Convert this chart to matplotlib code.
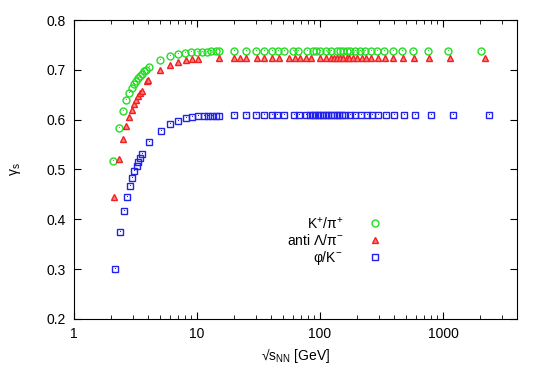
import matplotlib
matplotlib.use("Agg")
import matplotlib.pyplot as plt
from matplotlib.ticker import LogLocator, FixedLocator, NullFormatter

plt.rcParams['font.family'] = ['Liberation Sans', 'DejaVu Sans']
plt.rcParams['mathtext.default'] = 'regular'

# K+/pi+
x_k = [2.09, 2.31, 2.49, 2.66, 2.82, 2.94, 3.07, 3.19, 3.31, 3.44, 3.57, 3.71, 3.85, 4.05,
       5.0, 6.03, 6.96, 8.03, 8.94, 10, 11, 12, 13, 14.2, 15.1,
       20, 25, 30, 35, 40.5, 46, 50.7, 60.7, 66.6, 79, 88, 93, 100, 111, 123, 137, 145,
       155, 165, 175, 193, 211, 232, 260, 292, 333, 390, 464, 574, 759, 1097, 2026]
y_k = [0.518, 0.584, 0.617, 0.639, 0.653, 0.663, 0.671, 0.677, 0.683, 0.687, 0.692, 0.697, 0.700, 0.706,
       0.720, 0.727, 0.731, 0.733, 0.735, 0.736, 0.736, 0.736, 0.737, 0.737, 0.737] + [0.737] * 32

# anti Lambda/pi-
x_l = [2.13, 2.34, 2.50, 2.66, 2.82, 2.96, 3.09, 3.21, 3.34, 3.44, 3.57, 3.89, 4.02,
       5.0, 6.07, 7.01, 8.09, 9.04, 10.2, 15.1,
       20, 22.4, 25.2, 30.6, 35.3, 40.5, 46.2, 56, 63, 69, 76.5, 85, 101, 112, 123, 130,
       138, 145, 155, 165, 173, 187, 201, 218, 235, 258, 294, 338, 395, 470, 585, 774, 1146, 2208]
y_l = [0.445, 0.521, 0.561, 0.587, 0.605, 0.620, 0.631, 0.640, 0.647, 0.653, 0.658, 0.677, 0.679,
       0.700, 0.710, 0.715, 0.719, 0.721, 0.722, 0.724] + [0.724] * 34

# phi/K-
x_p = [2.15, 2.37, 2.55, 2.68, 2.84, 2.96, 3.09, 3.23, 3.34, 3.44, 3.57, 4.07,
       5.07, 6.07, 7.01, 8.09, 9.1, 10.1, 11.3, 12.2, 13.2, 14.3, 15.2,
       20, 25, 30, 35, 40.5, 45, 50.7, 61, 67.5, 76.5, 82.7, 87, 91.5, 96, 101, 106, 112,
       117, 123, 130, 137, 144, 151, 159, 175, 194, 216, 239, 265, 297, 342, 399, 478,
       595, 799, 1199, 2380]
y_p = [0.300, 0.375, 0.417, 0.445, 0.467, 0.483, 0.496, 0.507, 0.516, 0.524, 0.531, 0.555,
       0.578, 0.591, 0.598, 0.603, 0.605, 0.607, 0.608, 0.608, 0.608, 0.608, 0.608] + [0.609] * 37

fig = plt.figure(figsize=(5.45, 3.82), dpi=100)
ax = fig.add_axes([0.1358, 0.165, 0.8128, 0.7826])

ax.plot(x_k, y_k, 'o', ls='none', mfc='none', mec='#22dd22', ms=5, mew=1.0, label='K$^{+}$/π$^{+}$')
ax.plot(x_l, y_l, '^', ls='none', mfc='#ff8080', mec='#ee2222', ms=4.5, mew=1.0, label='anti Λ/π$^{-}$')
ax.plot(x_p, y_p, 's', ls='none', mfc='none', mec='#2222ee', ms=4.5, mew=1.0, label='φ/K$^{-}$')
# gnuplot-style centre dots
ax.plot(x_k, y_k, ',', ls='none', color='#22dd22')
ax.plot(x_p, y_p, ',', ls='none', color='#2222ee')

ax.set_xscale('log')
ax.set_xlim(1, 4000)
ax.set_ylim(0.2, 0.8)
ax.xaxis.set_minor_locator(LogLocator(base=10, subs=range(2, 10), numticks=20))
ax.xaxis.set_minor_formatter(NullFormatter())
ax.set_xticks([1, 10, 100, 1000])
ax.set_xticklabels(['1', '10', '100', '1000'])
ax.yaxis.set_major_locator(FixedLocator([0.2, 0.3, 0.4, 0.5, 0.6, 0.7, 0.8]))
ax.set_yticklabels(['0.2', '0.3', '0.4', '0.5', '0.6', '0.7', '0.8'])
ax.tick_params(which='both', direction='in', top=True, right=True, labelsize=10, pad=6)
ax.tick_params(which='major', length=5)
ax.tick_params(which='minor', length=3)

ax.set_xlabel('√s$_{NN}$ [GeV]', fontsize=10, labelpad=4)
ax.set_ylabel('γ$_{s}$', fontsize=10, labelpad=17)

leg = ax.legend(loc='center right', bbox_to_anchor=(0.723, 0.26), frameon=False, markerfirst=False,
                fontsize=10, handlelength=1.0, handletextpad=1.8, labelspacing=0.1)
for t in leg.get_texts():
    t.set_ha('right')

fig.savefig('out.png', dpi=100)
